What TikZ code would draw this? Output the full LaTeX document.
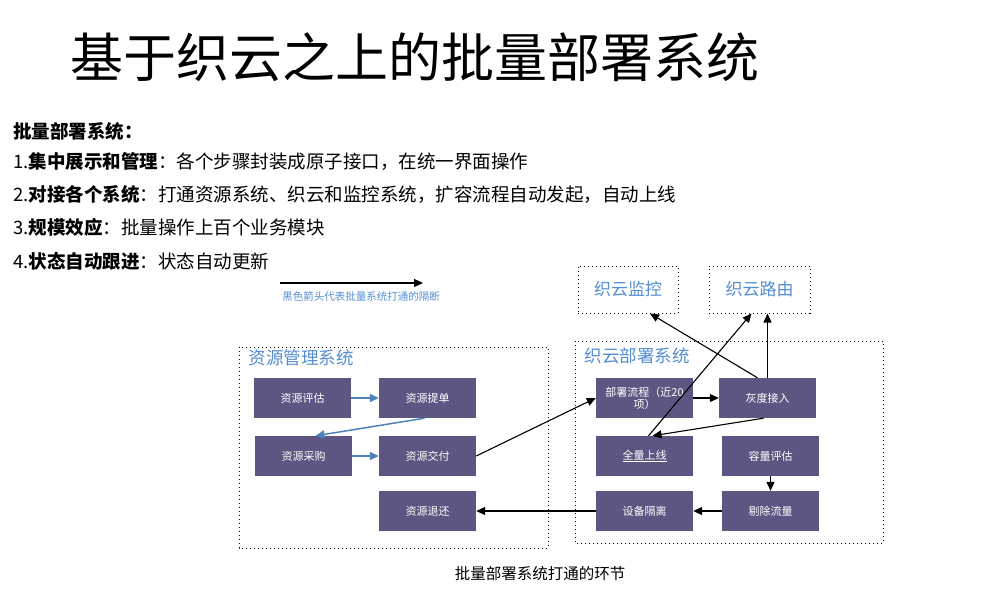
\documentclass[tikz,border=0pt]{standalone}
\usepackage{fontspec}
\setmainfont{Noto Sans CJK SC}
\usetikzlibrary{arrows.meta}
\definecolor{boxfill}{RGB}{95,85,130}
\definecolor{arrowblue}{RGB}{79,129,189}
\definecolor{labelblue}{RGB}{84,141,212}
\begin{document}
\begin{tikzpicture}[x=1pt,y=-1pt,
  stagebox/.style={fill=boxfill,text=white,minimum width=97pt,minimum height=40pt,
    inner sep=2pt,align=center,font=\fontsize{11}{12}\selectfont},
  groupbox/.style={draw,line width=1pt,dash pattern=on 1pt off 3pt},
  cloudbox/.style={groupbox,minimum height=47pt,text=labelblue,font=\fontsize{17}{20}\selectfont},
  grouplabel/.style={anchor=west,text=labelblue,font=\fontsize{17.5}{20}\selectfont},
  bodytext/.style={anchor=west,inner sep=0pt,font=\fontsize{18.5}{22}\selectfont},
  blackarr/.style={-{Triangle[length=9pt,width=8pt]},line width=1.1pt},
  bluearr/.style={-{Triangle[length=9pt,width=8pt]},arrowblue,line width=1.5pt}]
\useasboundingbox (0,0) rectangle (1000,597);
% title and the text lines
\node[anchor=west,inner sep=0pt,font=\fontsize{53}{60}\selectfont] (title) at (70,57) {基于织云之上的批量部署系统};
\node[bodytext] (head) at (13,131) {\textbf{批量部署系统：}};
\node[bodytext] (line1) at (13,161) {1.\textbf{集中展示和管理}：各个步骤封装成原子接口，在统一界面操作};
\node[bodytext] (line2) at (13,194) {2.\textbf{对接各个系统}：打通资源系统、织云和监控系统，扩容流程自动发起，自动上线};
\node[bodytext] (line3) at (13,227) {3.\textbf{规模效应}：批量操作上百个业务模块};
\node[bodytext] (line4) at (13,261) {4.\textbf{状态自动跟进}：状态自动更新};
% legend
\coordinate (legstart) at (280,283);
\coordinate (legend) at (423,283);
\draw[blackarr] (legstart) -- (legend);
\node[text=labelblue,font=\fontsize{10.5}{12}\selectfont] (legtext) at (361,296) {黑色箭头代表批量系统打通的隔断};
% the two systems
\draw[groupbox] (239,347) rectangle (548,548);
\node[grouplabel] (zygl) at (245,358) {资源管理系统};
\draw[groupbox] (575,341) rectangle (883,543);
\node[grouplabel] (zybs) at (581,356) {织云部署系统};
\node[cloudbox,minimum width=100pt] (zyjk) at (628,289.5) {织云监控};
\node[cloudbox,minimum width=101pt] (zyly) at (759.5,289.5) {织云路由};
% stages
\node[stagebox] (zypg) at (302.5,398) {资源评估};
\node[stagebox] (zytd) at (427.5,398) {资源提单};
\node[stagebox] (zycg) at (303.5,456) {资源采购};
\node[stagebox] (zyjf) at (427.5,456) {资源交付};
\node[stagebox] (zyth) at (427.5,511) {资源退还};
\node[stagebox] (bslc) at (644.5,398) {部署流程（近20\\项）};
\node[stagebox] (hdjr) at (767.5,398) {灰度接入};
\node[stagebox] (qlsx) at (644.5,456) {\underline{全量上线}};
\node[stagebox] (rlpg) at (770.5,456) {容量评估};
\node[stagebox] (tcll) at (770.5,511) {剔除流量};
\node[stagebox] (sbgl) at (644.5,511) {设备隔离};
% connectors
\draw[bluearr] (zypg) -- (zytd);
\draw[bluearr] ([xshift=-3pt]zytd.south) -- ([xshift=12pt]zycg.north);
\draw[bluearr] (zycg) -- (zyjf);
\draw[blackarr] (zyjf.east) -- (bslc.west);
\draw[blackarr] (bslc) -- (hdjr);
\draw[blackarr] ([xshift=-4pt]hdjr.south) -- ([xshift=8pt]qlsx.north);
\draw[blackarr] ([xshift=4pt]qlsx.north) -- ([xshift=-8pt]zyly.south);
\draw[blackarr] ([xshift=-10pt]hdjr.north) -- ([xshift=22pt]zyjk.south);
\draw[blackarr] (hdjr.north) -- (hdjr.north |- zyly.south);
\draw[blackarr] (rlpg) -- (tcll);
\draw[blackarr] (tcll) -- (sbgl);
\draw[blackarr] (sbgl) -- (zyth);
\node[font=\fontsize{15.5}{18}\selectfont] (caption) at (540,574) {批量部署系统打通的环节};
\end{tikzpicture}
\end{document}
